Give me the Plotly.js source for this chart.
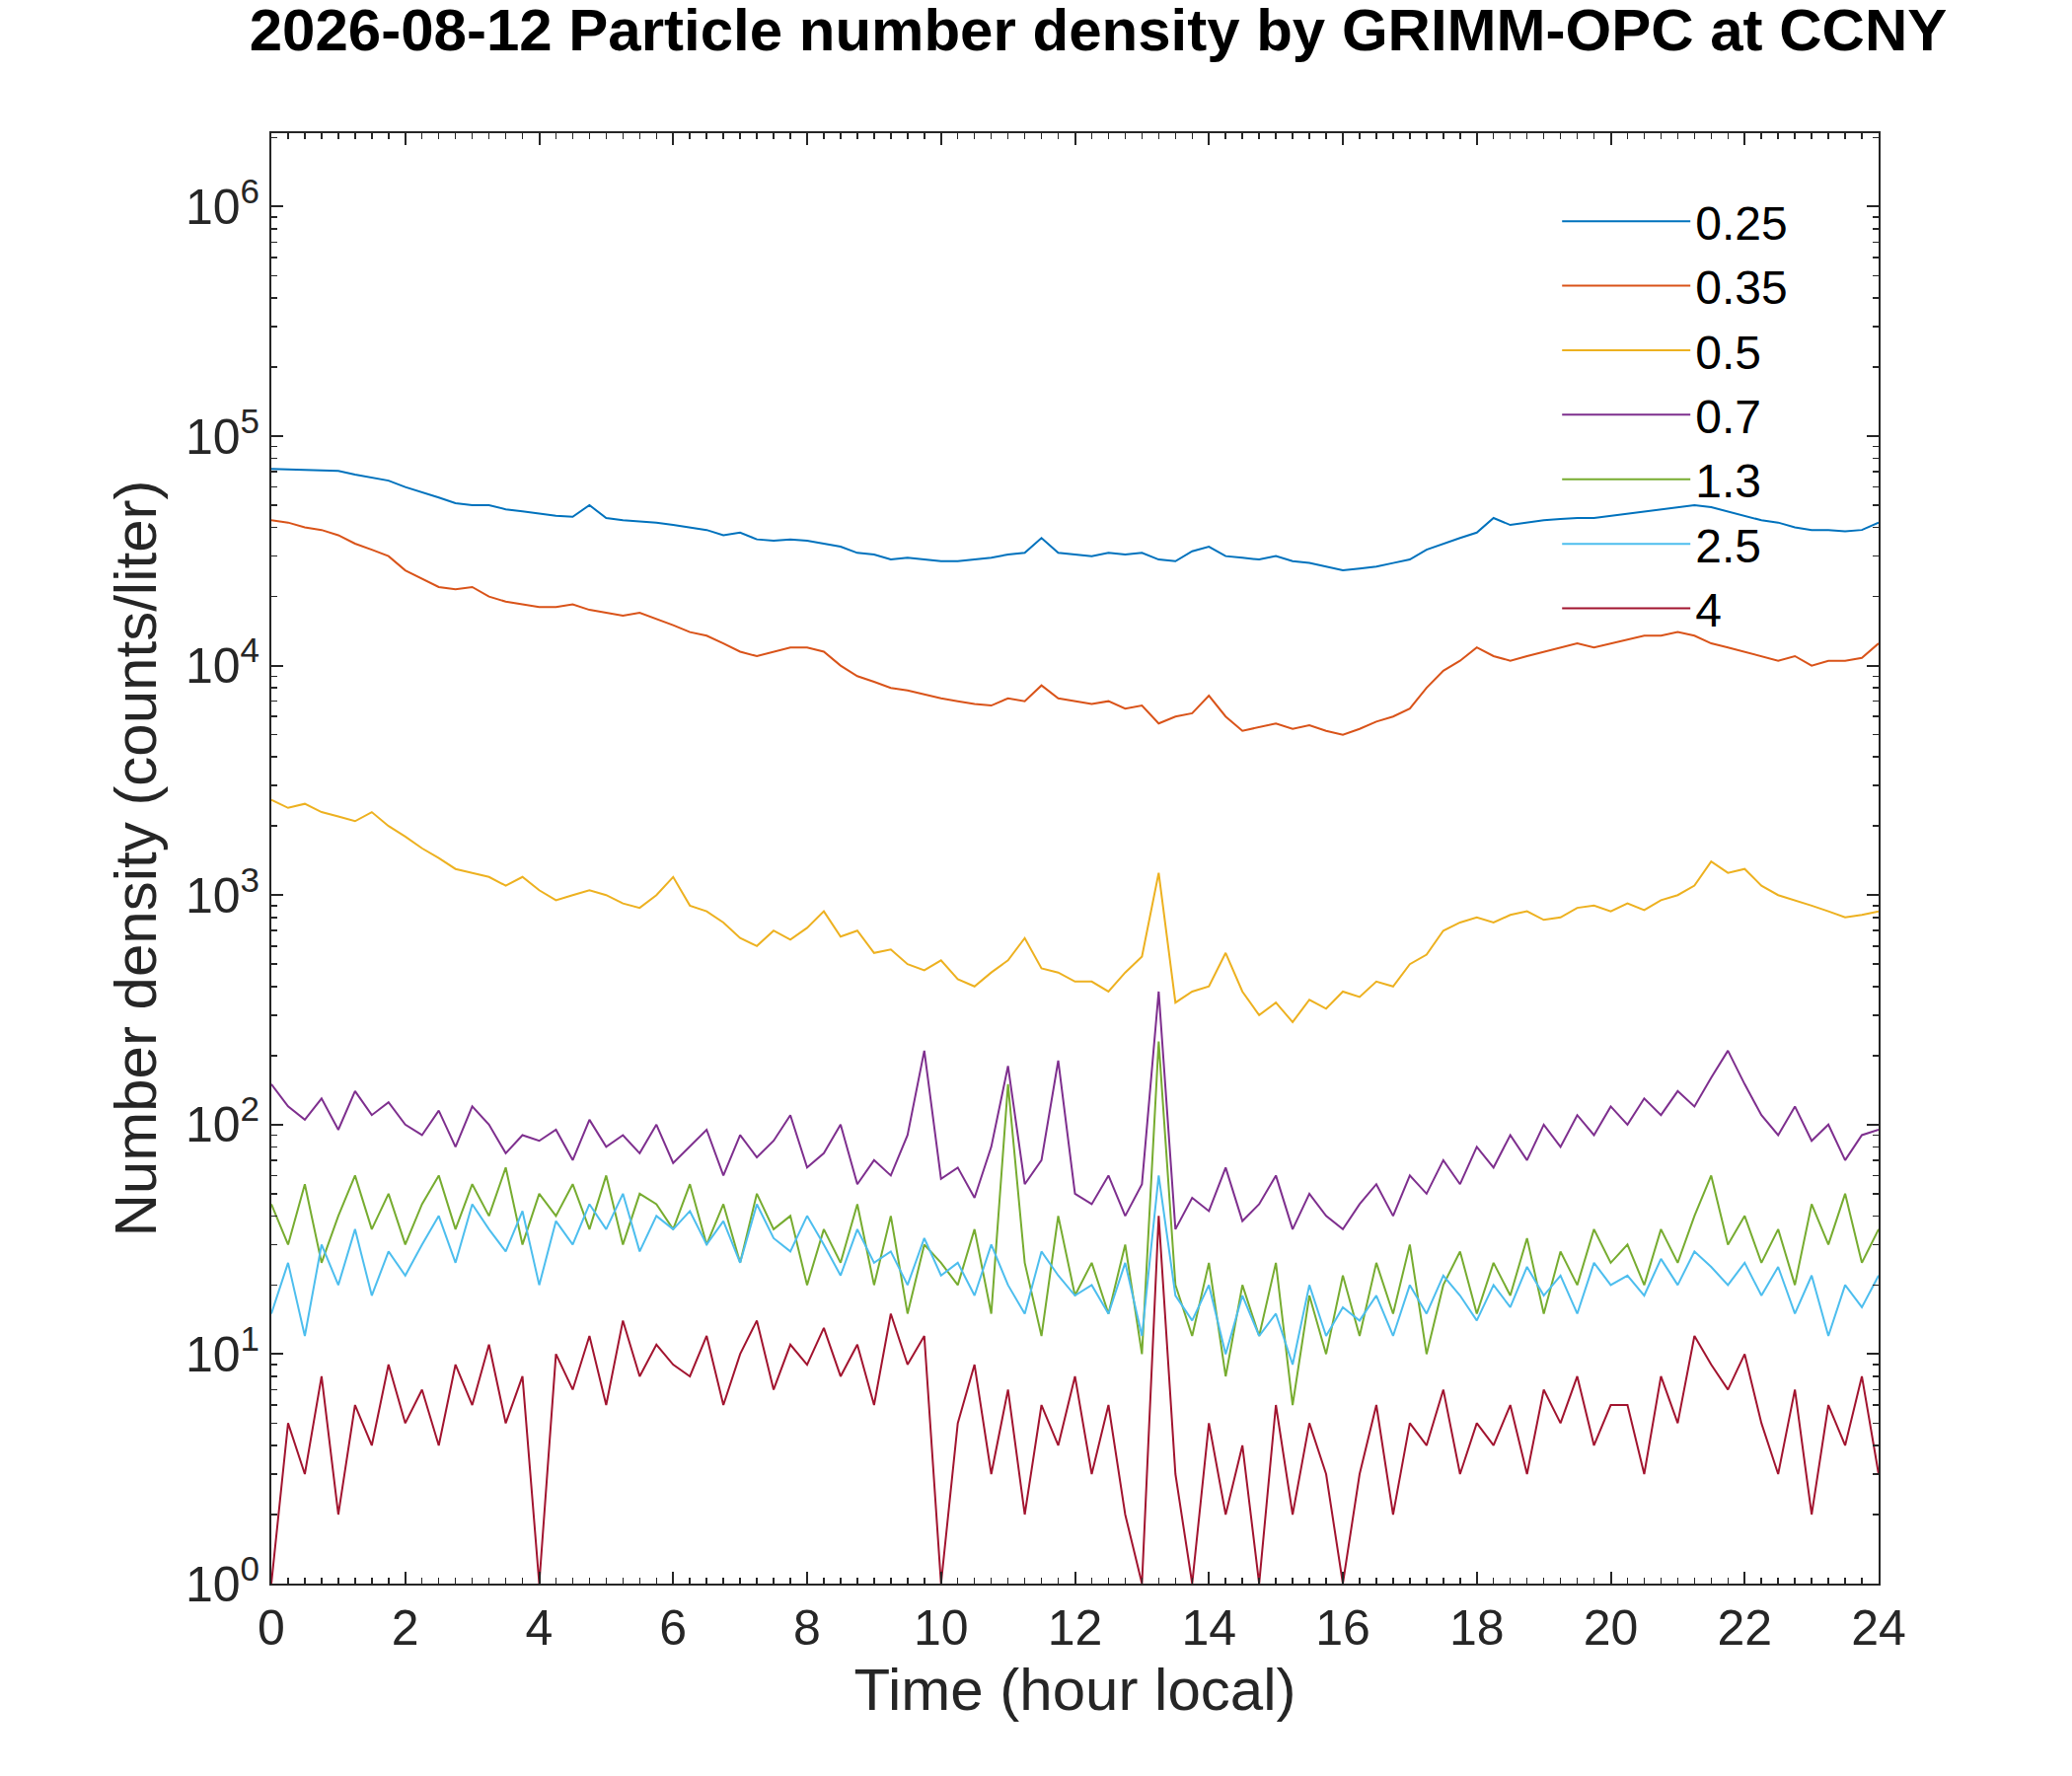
<!DOCTYPE html>
<html lang="en">
  <head>
    <meta charset="UTF-8" />
    <title>GRIMM-OPC particle number density</title>
    <script src="https://cdn.plot.ly/plotly-3.0.1.min.js"></script>
    <style>
      body { margin: 0; background: #fff; }
      #plot { width: 2100px; height: 1800px; }
    </style>
  </head>
  <body>
    <div id="plot"></div>
    <script>
      // values every 15 minutes, 0..24 h
      const hours = Array.from({ length: 97 }, (_, i) => i / 4);
      const sizes = ["0.25", "0.35", "0.5", "0.7", "1.3", "2.5", "4"];
      const colors = ["#0072BD", "#D95319", "#EDB120", "#7E2F8E", "#77AC30", "#4DBEEE", "#A2142F"];

      const d025 = [72000,71500,71000,71000,70500,68000,66000,64000,60000,
        57000,54000,51000,50000,50000,48000,47000,46000,
        45000,44500,50000,44000,43000,42500,42000,41000,
        40000,39000,37000,38000,35500,35000,35500,35000,
        34000,33000,31000,30500,29000,29500,29000,28500,
        28500,29000,29500,30500,31000,36000,31000,30500,
        30000,31000,30500,31000,29000,28500,31500,33000,
        30000,29500,29000,30000,28500,28000,27000,26000,
        26500,27000,28000,29000,32000,34000,36000,38000,
        44000,41000,42000,43000,43500,44000,44000,45000,
        46000,47000,48000,49000,50000,49000,47000,45000,
        43000,42000,40000,39000,39000,38500,39000,42000];
      const d035 = [43000,42000,40000,39000,37000,34000,32000,30000,26000,
        24000,22000,21500,22000,20000,19000,18500,18000,
        18000,18500,17500,17000,16500,17000,16000,15000,
        14000,13500,12500,11500,11000,11500,12000,12000,
        11500,10000,9000,8500,8000,7800,7500,7200,
        7000,6800,6700,7200,7000,8200,7200,7000,
        6800,7000,6500,6700,5600,6000,6200,7400,
        6000,5200,5400,5600,5300,5500,5200,5000,
        5300,5700,6000,6500,8000,9500,10500,12000,
        11000,10500,11000,11500,12000,12500,12000,12500,
        13000,13500,13500,14000,13500,12500,12000,11500,
        11000,10500,11000,10000,10500,10500,10800,12500];
      const d05 = [2600,2400,2500,2300,2200,2100,2300,2000,1800,
        1600,1450,1300,1250,1200,1100,1200,1050,
        950,1000,1050,1000,920,880,1000,1200,
        900,850,760,650,600,700,640,720,
        850,660,700,560,580,500,470,520,
        430,400,460,520,650,480,460,420,
        420,380,460,540,1250,340,380,400,
        560,380,300,340,280,350,320,380,
        360,420,400,500,550,700,760,800,
        760,820,850,780,800,880,900,850,
        920,860,950,1000,1100,1400,1250,1300,
        1100,1000,950,900,850,800,820,850];
      const d07 = [150,120,105,130,95,140,110,125,100,
        90,115,80,120,100,75,90,85,
        95,70,105,80,90,75,100,68,
        80,95,60,90,72,85,110,65,
        75,100,55,70,60,90,210,58,
        65,48,80,180,55,70,190,50,
        45,60,40,55,380,35,48,42,
        65,38,45,60,35,50,40,35,
        45,55,40,60,50,70,55,80,
        65,90,70,100,80,110,90,120,
        100,130,110,140,120,160,210,150,
        110,90,120,85,100,70,90,95];
      const d13 = [45,30,55,25,40,60,35,50,30,
        45,60,35,55,40,65,30,50,
        40,55,35,60,30,50,45,35,
        55,30,45,25,50,35,40,20,
        35,25,45,20,40,15,30,25,
        20,35,15,150,25,12,40,18,
        25,15,30,10,230,20,12,25,
        8,20,12,25,6,18,10,22,
        12,25,15,30,10,20,28,15,
        25,18,32,15,28,20,35,25,
        30,20,35,25,40,60,30,40,
        25,35,20,45,30,50,25,35];
      const d25 = [15,25,12,30,20,35,18,28,22,
        30,40,25,45,35,28,42,20,
        38,30,45,35,50,28,40,35,
        42,30,38,25,45,32,28,40,
        30,22,35,25,28,20,32,22,
        25,18,30,20,15,28,22,18,
        20,15,25,12,60,18,14,20,
        10,18,12,15,9,20,12,16,
        14,18,12,20,15,22,18,14,
        20,16,24,18,22,15,25,20,
        22,18,26,20,28,24,20,25,
        18,24,15,22,12,20,16,22];
      const d4 = [1,5,3,8,2,6,4,9,5,
        7,4,9,6,11,5,8,1,
        10,7,12,6,14,8,11,9,
        8,12,6,10,14,7,11,9,
        13,8,11,6,15,9,12,1,
        5,9,3,7,2,6,4,8,
        3,6,2,1,40,3,1,5,
        2,4,1,6,2,5,3,1,
        3,6,2,5,4,7,3,5,
        4,6,3,7,5,8,4,6,
        6,3,8,5,12,9,7,10,
        5,3,7,2,6,4,8,3];
      const series = [d025, d035, d05, d07, d13, d25, d4];

      const yTickVals = [1, 10, 100, 1000, 10000, 100000, 1000000];
      const yTickText = yTickVals.map((v, i) => "10<sup>" + i + "</sup>");
      const yMinor = [];
      yTickVals.forEach((v) => { for (let m = 2; m <= 9; m++) yMinor.push(v * m); });
      const xMinor = Array.from({ length: 97 }, (_, i) => i / 4);

      const traces = series.map((y, k) => ({
        x: hours,
        y: y,
        type: "scatter",
        mode: "lines",
        name: sizes[k],
        line: { color: colors[k], width: 2 },
      }));

      const font = "Liberation Sans, Arial";
      const axisCommon = {
        showline: true,
        mirror: "ticks",
        linecolor: "#262626",
        linewidth: 2,
        ticks: "inside",
        ticklen: 12,
        tickwidth: 2,
        tickcolor: "#262626",
        showgrid: false,
        zeroline: false,
        tickfont: { family: font, size: 50, color: "#262626" },
      };

      const layout = {
        width: 2100,
        height: 1800,
        margin: { l: 275, r: 196, t: 135, b: 195 },
        paper_bgcolor: "#fff",
        plot_bgcolor: "#fff",
        title: {
          text: "<b>2026-08-12 Particle number density by GRIMM-OPC at CCNY</b>",
          font: { family: font, size: 60, color: "#000" },
          x: 0.53,
          xanchor: "center",
          y: 0.995,
          yanchor: "top",
        },
        xaxis: Object.assign({}, axisCommon, {
          range: [0, 24],
          tickvals: [0, 2, 4, 6, 8, 10, 12, 14, 16, 18, 20, 22, 24],
          minor: { tickvals: xMinor, ticks: "inside", ticklen: 6, tickwidth: 1.5, tickcolor: "#262626" },
          title: { text: "Time (hour local)", font: { family: font, size: 60, color: "#262626" }, standoff: 14 },
        }),
        yaxis: Object.assign({}, axisCommon, {
          type: "log",
          range: [0, 6.32],
          tickvals: yTickVals,
          ticktext: yTickText,
          minor: { tickvals: yMinor, ticks: "inside", ticklen: 6, tickwidth: 1.5, tickcolor: "#262626" },
          title: { text: "Number density (counts/liter)", font: { family: font, size: 60, color: "#262626" }, standoff: 10 },
        }),
        legend: {
          x: 0.8,
          y: 0.965,
          xanchor: "left",
          yanchor: "top",
          bgcolor: "rgba(0,0,0,0)",
          font: { family: font, size: 48, color: "#000" },
          itemwidth: 130,
          tracegroupgap: 0,
        },
        showlegend: true,
      };

      Plotly.newPlot("plot", traces, layout, { staticPlot: true });
    </script>
  </body>
</html>
